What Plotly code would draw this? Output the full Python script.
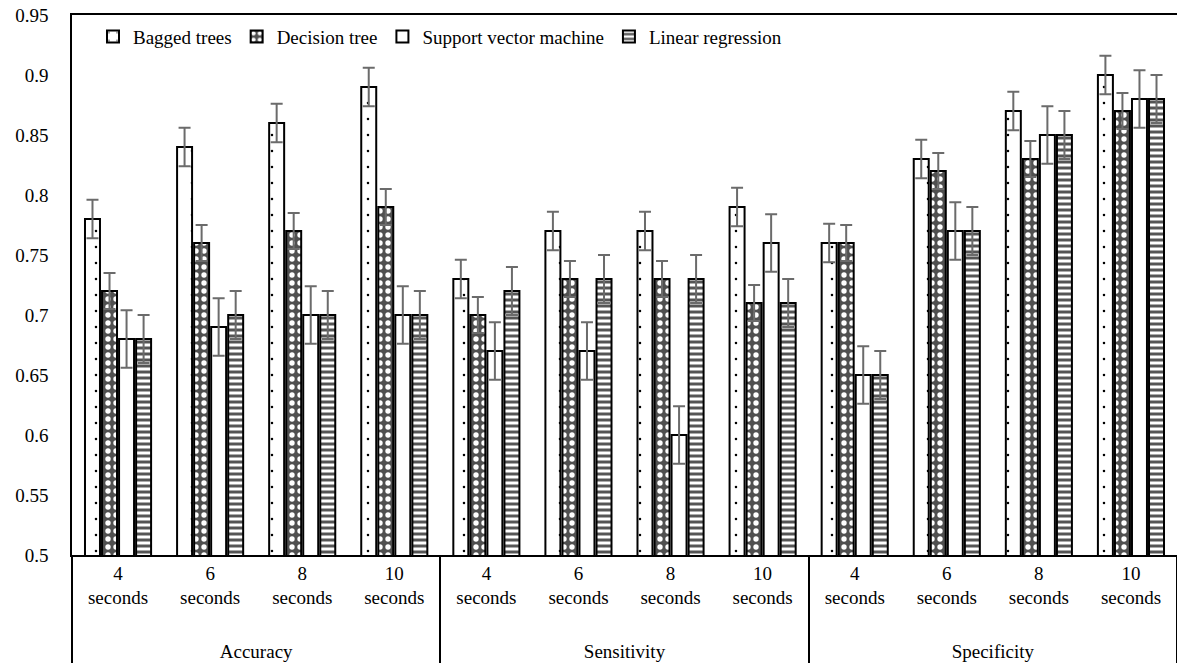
import plotly.graph_objects as go

metrics = ["Accuracy", "Sensitivity", "Specificity"]
pad = "<br><span style='font-size:48px'> </span>"
windows = ["4<br>seconds" + pad, "6<br>seconds" + pad, "8<br>seconds" + pad, "10<br>seconds" + pad]

series_names = ["Bagged trees", "Decision tree", "Support vector machine", "Linear regression"]

bagged = [0.78, 0.84, 0.86, 0.89, 0.73, 0.77, 0.77, 0.79, 0.76, 0.83, 0.87, 0.90]
dtree = [0.72, 0.76, 0.77, 0.79, 0.70, 0.73, 0.73, 0.71, 0.76, 0.82, 0.83, 0.87]
svm = [0.68, 0.69, 0.70, 0.70, 0.67, 0.67, 0.60, 0.76, 0.65, 0.77, 0.85, 0.88]
linreg = [0.68, 0.70, 0.70, 0.70, 0.72, 0.73, 0.73, 0.71, 0.65, 0.77, 0.85, 0.88]

err_bagged = [0.016] * 12
err_dtree = [0.015] * 12
err_svm = [0.024] * 12
err_linreg = [0.02] * 12

y_ticks = [0.5, 0.55, 0.6, 0.65, 0.7, 0.75, 0.8, 0.85, 0.9, 0.95]
y_ticktext = ["0.5", "0.55", "0.6", "0.65", "0.7", "0.75", "0.8", "0.85", "0.9", "0.95"]

outer = [m for m in metrics for _ in windows]
inner = [w for _ in metrics for w in windows]

FONT = "Liberation Serif"

patterns = [
    dict(shape=".", fgcolor="black", bgcolor="white", size=16, solidity=0.02, fillmode="replace"),
    dict(shape=".", fgcolor="white", bgcolor="#505050", size=8, solidity=0.35, fillmode="replace"),
    None,
    dict(shape="-", fgcolor="#555555", bgcolor="white", size=6, solidity=0.5, fillmode="replace"),
]

values = [bagged, dtree, svm, linreg]
errors = [err_bagged, err_dtree, err_svm, err_linreg]

fig = go.Figure()
for name, vals, errs, pat in zip(series_names, values, errors, patterns):
    marker = dict(color="white", line=dict(color="black", width=2))
    if pat is not None:
        marker["pattern"] = pat
    fig.add_trace(go.Bar(
        x=[outer, inner],
        y=vals,
        name=name,
        marker=marker,
        error_y=dict(type="data", array=errs, visible=True, color="#6b6b6b", thickness=2, width=6),
    ))

fig.update_layout(
    width=1177, height=668,
    margin=dict(l=72, r=0, t=15, b=113),
    paper_bgcolor="white", plot_bgcolor="white",
    barmode="group", bargap=0.26, bargroupgap=0.12,
    font=dict(family=FONT, size=19, color="black"),
    showlegend=True,
    legend=dict(orientation="h", x=0.019, y=0.995, xanchor="left", yanchor="top",
                font=dict(family=FONT, size=19, color="black"), bgcolor="rgba(0,0,0,0)",
                traceorder="normal"),
)
fig.update_yaxes(range=[0.5, 0.95], tickvals=y_ticks, ticktext=y_ticktext,
                 showgrid=False, zeroline=False, showline=True, linecolor="black",
                 linewidth=1.5, ticks="outside", ticklen=18, tickcolor="white",
                 tickfont=dict(family=FONT, size=19, color="black"))
fig.update_xaxes(showline=True, linecolor="black", linewidth=1.5, mirror=True,
                 showgrid=False, showdividers=True, dividercolor="black",
                 dividerwidth=1.5, tickfont=dict(family=FONT, size=19, color="black"))

fig.write_html("out.html")
